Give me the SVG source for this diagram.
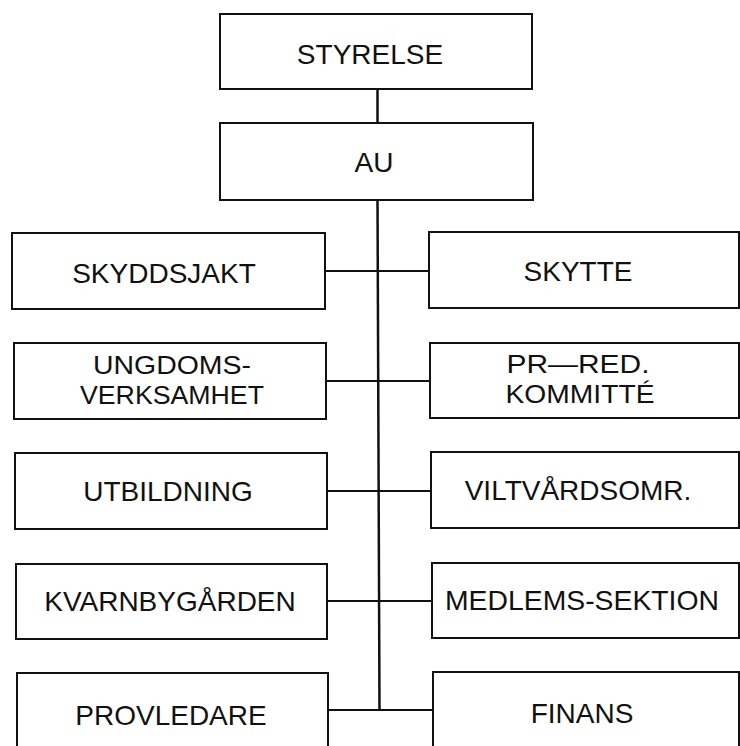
<svg xmlns="http://www.w3.org/2000/svg" width="740" height="746" viewBox="0 0 740 746">
<style>
.box{fill:#fff;stroke:#111;stroke-width:2}
.lbl{font-family:"Liberation Sans",Arial,sans-serif;font-size:28px;fill:#111;text-anchor:middle}
.lbl2{font-family:"Liberation Sans",Arial,sans-serif;font-size:26px;fill:#111;text-anchor:middle}
.conn{stroke:#111;stroke-width:2;fill:none}
.trunk{stroke:#111;stroke-width:2.5;fill:none}
</style>
<rect width="740" height="746" fill="#fff"/>
<g id="connectors">
<line class="trunk" x1="377.5" y1="89" x2="377.5" y2="123"/>
<line class="trunk" x1="377.5" y1="200" x2="379.5" y2="710"/>
<line class="conn" x1="325" y1="271" x2="429" y2="271"/>
<line class="conn" x1="326" y1="381" x2="430" y2="381"/>
<line class="conn" x1="327" y1="491" x2="431" y2="491"/>
<line class="conn" x1="327" y1="601" x2="432" y2="601"/>
<line class="conn" x1="328" y1="710" x2="433" y2="710"/>
</g>
<g id="styrelse"><rect class="box" x="220" y="14" width="312" height="75"/><text class="lbl" x="370" y="64">STYRELSE</text></g>
<g id="au"><rect class="box" x="220" y="123" width="313" height="77"/><text class="lbl" x="374" y="172">AU</text></g>
<g id="skyddsjakt"><rect class="box" x="12" y="233" width="313" height="76"/><text class="lbl" x="164" y="283">SKYDDSJAKT</text></g>
<g id="skytte"><rect class="box" x="429" y="232" width="310" height="76"/><text class="lbl" x="578" y="281">SKYTTE</text></g>
<g id="ungdoms"><rect class="box" x="14" y="343" width="312" height="76"/><text class="lbl2" x="172" y="374" textLength="158" lengthAdjust="spacingAndGlyphs">UNGDOMS-</text><text class="lbl2" x="172" y="404" textLength="184" lengthAdjust="spacingAndGlyphs">VERKSAMHET</text></g>
<g id="prred"><rect class="box" x="430" y="343" width="309" height="75"/><text class="lbl2" x="578" y="373" textLength="143" lengthAdjust="spacingAndGlyphs">PR—RED.</text><text class="lbl2" x="580" y="403" textLength="149" lengthAdjust="spacingAndGlyphs">KOMMITTÉ</text></g>
<g id="utbildning"><rect class="box" x="15" y="453" width="312" height="76"/><text class="lbl" x="168" y="501">UTBILDNING</text></g>
<g id="viltvard"><rect class="box" x="431" y="452" width="308" height="76"/><text class="lbl" x="578" y="500">VILTVÅRDSOMR.</text></g>
<g id="kvarnby"><rect class="box" x="16" y="564" width="311" height="75"/><text class="lbl" x="170" y="611">KVARNBYGÅRDEN</text></g>
<g id="medlems"><rect class="box" x="432" y="563" width="307" height="75"/><text class="lbl" x="582" y="610" textLength="274" lengthAdjust="spacingAndGlyphs">MEDLEMS-SEKTION</text></g>
<g id="provledare"><rect class="box" x="17" y="673" width="311" height="90"/><text class="lbl" x="171" y="725">PROVLEDARE</text></g>
<g id="finans"><rect class="box" x="433" y="672" width="306" height="90"/><text class="lbl" x="582" y="723">FINANS</text></g>
</svg>
